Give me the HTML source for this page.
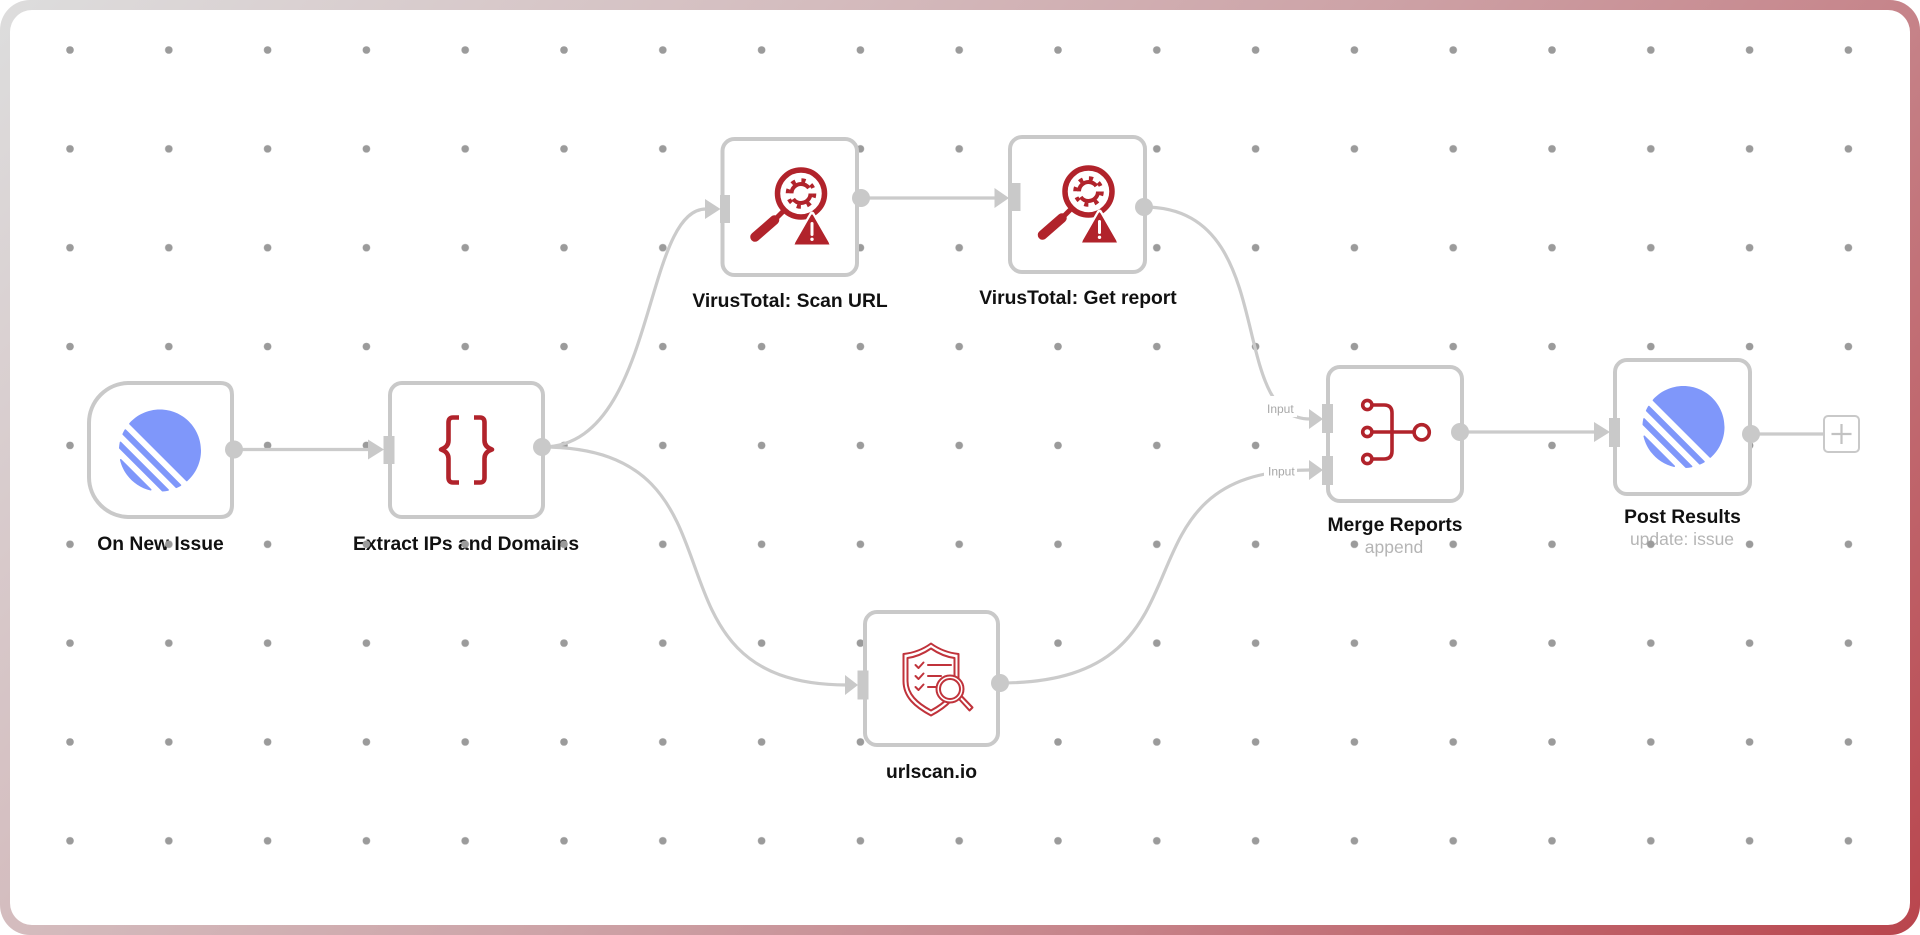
<!DOCTYPE html>
<html><head><meta charset="utf-8">
<style>
html,body{margin:0;padding:0;background:#fff;}
.frame{position:relative;width:1920px;height:935px;border-radius:30px;overflow:hidden;
background:linear-gradient(131deg,#dddddd 0%,#d4bcbe 30%,#cda3a7 50%,#c6848a 70%,#b9454d 100%);}
.inner{position:absolute;left:10px;top:10px;right:10px;bottom:10px;background:#fff;border-radius:22px;}
svg{position:absolute;left:0;top:0;}
text{font-family:"Liberation Sans",Arial,sans-serif;}
</style></head><body>
<div class="frame"><div class="inner"></div>
<svg width="1920" height="935" viewBox="0 0 1920 935">
<defs>
<pattern id="dots" patternUnits="userSpaceOnUse" x="20.6" y="0.575" width="98.8" height="98.85">
<circle cx="49.4" cy="49.425" r="3.8" fill="#9b9b9b"/>
</pattern>
<g id="linear">
<path d="M1.22541 61.5228c-.2225-.9485.90748-1.5459 1.59638-.857L39.3342 97.1782c.6889.6889.0915 1.8189-.857 1.5964C20.0515 94.4522 5.54779 79.9485 1.22541 61.5228Z"/>
<path d="M.00189135 46.8891c-.01764375.2833.08887215.5599.28957165.7606L52.3503 99.7085c.2007.2007.4773.3075.7606.2896 2.3692-.1476 4.6938-.46 6.9624-.9259.7645-.157 1.0301-1.0963.4782-1.6481L2.57595 39.4485c-.55186-.5519-1.49117-.2863-1.648174.4782-.465915 2.2686-.77832 4.5932-.92588465 6.9624Z"/>
<path d="M4.21093 29.7054c-.16649.3738-.08169.8106.20765 1.1l64.77602 64.776c.2894.2894.7262.3742 1.1.2077 1.7861-.7956 3.5171-1.6927 5.1855-2.684.5521-.328.6373-1.0867.1832-1.5407L8.43566 24.3367c-.45409-.4541-1.21271-.3689-1.54074.1832-.99132 1.6684-1.88843 3.3994-2.68399 5.1855Z"/>
<path d="M12.6587 18.074c-.3701-.3701-.393-.9637-.0443-1.3541C21.7795 6.45931 35.1114 0 49.9519 0 77.5927 0 100 22.4073 100 50.0481c0 14.8405-6.4593 28.1724-16.7199 37.3375-.3903.3487-.984.3258-1.3542-.0443L12.6587 18.074Z"/>
</g>
<g id="vt">
<circle cx="801" cy="193.5" r="23.5" fill="none" stroke="#b1232b" stroke-width="5.5"/>
<line x1="784" y1="210.5" x2="776" y2="218.5" stroke="#b1232b" stroke-width="5"/>
<line x1="774.5" y1="220" x2="755" y2="237" stroke="#b1232b" stroke-width="9.5" stroke-linecap="round"/>
<circle cx="801" cy="193.5" r="9.5" fill="none" stroke="#b1232b" stroke-width="4" stroke-dasharray="23.8 6"/>
<circle cx="801" cy="193.5" r="13.3" fill="none" stroke="#b1232b" stroke-width="4" stroke-dasharray="4.2 6.25"/>
<path d="M812,214 L829.5,244.5 L794.5,244.5 Z" fill="#b1232b" stroke="#fff" stroke-width="5" stroke-linejoin="round" paint-order="stroke"/>
<path d="M812,216 L827.5,243 L796.5,243 Z" fill="#b1232b" stroke="#b1232b" stroke-width="2.5" stroke-linejoin="round"/>
<line x1="812" y1="223.5" x2="812" y2="234.5" stroke="#fff" stroke-width="3" stroke-linecap="round"/>
<circle cx="812" cy="239.3" r="1.7" fill="#fff"/>
</g>
</defs>

<!-- labels -->
<g font-weight="bold" font-size="19.3" fill="#111" text-anchor="middle">
<text x="160.5" y="550">On New Issue</text>
<text x="466" y="550">Extract IPs and Domains</text>
<text x="790" y="307">VirusTotal: Scan URL</text>
<text x="1078" y="304">VirusTotal: Get report</text>
<text x="931.5" y="778">urlscan.io</text>
<text x="1395" y="531">Merge Reports</text>
<text x="1682.5" y="523">Post Results</text>
</g>
<g font-size="17.5" fill="#b5b5b5" text-anchor="middle">
<text x="1394" y="553">append</text>
<text x="1682" y="545">update: issue</text>
</g>

<!-- grid dots -->
<rect x="0" y="0" width="1920" height="935" fill="url(#dots)"/>

<!-- edges -->
<g fill="none" stroke="#cbcbcb" stroke-width="3.2">
<path d="M234,449.5 H369"/>
<path d="M542,447 C657,447 642,209 706,209"/>
<path d="M542,447 C762,447 627,685 847,685"/>
<path d="M861,198 H995"/>
<path d="M1144,207 C1282,207 1224,419 1310,419"/>
<path d="M1000,683 C1230,683 1100,470 1310,470"/>
<path d="M1460,432 H1595"/>
<path d="M1751,434 H1824"/>
</g>
<!-- arrowheads -->
<g fill="#c9c9c9">
<path d="M368,439.5 L384,449.5 L368,459.5 Z"/>
<path d="M705,199 L720.5,209 L705,219 Z"/>
<path d="M845,675 L858,685 L845,695 Z"/>
<path d="M994.5,188 L1009,198 L994.5,208 Z"/>
<path d="M1309,409 L1323,419 L1309,429 Z"/>
<path d="M1309,460 L1323,470 L1309,480 Z"/>
<path d="M1594,422 L1610,432 L1594,442 Z"/>
</g>

<!-- nodes -->
<g fill="#fff" stroke="#c9c9c9" stroke-width="4">
<path d="M129,383 L220,383 Q232,383 232,395 L232,505 Q232,517 220,517 L129,517 A40,40 0 0 1 89,477 L89,423 A40,40 0 0 1 129,383 Z"/>
<rect x="390" y="383" width="153" height="134" rx="12"/>
<rect x="722.5" y="139" width="134.5" height="136" rx="12"/>
<rect x="1010" y="137" width="135" height="135" rx="12"/>
<rect x="865" y="612" width="133" height="133" rx="12"/>
<rect x="1328" y="367" width="134" height="134" rx="12"/>
<rect x="1615" y="360" width="135" height="134" rx="12"/>
<rect x="1824" y="416" width="35" height="36" rx="4" stroke-width="2"/>
</g>
<g stroke="#c2c2c2" stroke-width="2.2">
<line x1="1831.5" y1="434" x2="1851.5" y2="434"/>
<line x1="1841.5" y1="424" x2="1841.5" y2="444"/>
</g>

<!-- handles -->
<g fill="#c9c9c9">
<circle cx="234" cy="449.5" r="9"/>
<circle cx="542" cy="447" r="9"/>
<circle cx="861" cy="198" r="9"/>
<circle cx="1144" cy="207" r="9"/>
<circle cx="1000" cy="683" r="9"/>
<circle cx="1460" cy="432" r="9"/>
<circle cx="1751" cy="434" r="9"/>
<rect x="383.5" y="436" width="11" height="28"/>
<rect x="720" y="195" width="10" height="28"/>
<rect x="1008.5" y="183" width="12" height="28"/>
<rect x="857.5" y="670.5" width="11" height="29"/>
<rect x="1322" y="404" width="11" height="29"/>
<rect x="1322" y="456" width="11" height="29"/>
<rect x="1609" y="418" width="11" height="29"/>
</g>

<!-- input labels -->
<rect x="1263" y="396" width="34" height="21" fill="#fff"/>
<rect x="1264" y="462" width="33" height="17" fill="#fff"/>
<g font-size="12" fill="#a8a8a8">
<text x="1267" y="413">Input</text>
<text x="1268" y="475.5">Input</text>
</g>

<!-- icons -->
<g fill="#7f97fa">
<use href="#linear" transform="translate(119,409.5) scale(0.82)"/>
<use href="#linear" transform="translate(1642.5,386) scale(0.82)"/>
</g>

<!-- braces -->
<g fill="none" stroke="#b1232b" stroke-width="4.6" stroke-linejoin="round">
<path d="M459,417.5 L453,417.5 Q448.5,417.5 448.5,422.5 L448.5,440.5 Q448.5,447 441,449.5 Q448.5,452 448.5,458.5 L448.5,477.5 Q448.5,482.5 453,482.5 L459,482.5"/>
<path d="M474,417.5 L480,417.5 Q484.5,417.5 484.5,422.5 L484.5,440.5 Q484.5,447 492,449.5 Q484.5,452 484.5,458.5 L484.5,477.5 Q484.5,482.5 480,482.5 L474,482.5"/>
</g>

<use href="#vt"/>
<use href="#vt" transform="translate(287.5,-2)"/>

<!-- urlscan icon -->
<g fill="none" stroke="#c0333b" stroke-width="2" stroke-linejoin="round" stroke-linecap="round">
<path d="M931,643.5 C922,650 913,653 903.5,654 L903.5,681 C903.5,697 915,707 931,715.5 C947,707 958.5,697 958.5,681 L958.5,654 C949,653 940,650 931,643.5 Z"/>
<path d="M931,648.5 C923,654 915,657 907.5,658 L907.5,681 C907.5,694 917,703 931,710.5 C945,703 954.5,694 954.5,681 L954.5,658 C947,657 939,654 931,648.5 Z"/>
<path d="M915.5,665 L918.5,668 L923.5,662.5"/>
<path d="M915.5,676 L918.5,679 L923.5,673.5"/>
<path d="M915.5,687 L918.5,690 L923.5,684.5"/>
<path d="M928,665 H951"/>
<path d="M928,676 H941"/>
<path d="M928,687 H936"/>
<circle cx="950" cy="689" r="13.5" fill="#fff"/>
<circle cx="950" cy="689" r="10"/>
<path d="M959,699 L969.5,710.5 L972.5,707.5 L962,696.5"/>
</g>

<!-- merge icon -->
<g fill="none" stroke="#b1232b" stroke-width="3.6">
<path d="M1372,405 L1384,405 Q1392,405 1392,413 L1392,451 Q1392,459 1384,459 L1372,459"/>
<path d="M1372,432 L1414,432"/>
<circle cx="1367.3" cy="405" r="4.6"/>
<circle cx="1367.3" cy="432" r="4.6"/>
<circle cx="1367.3" cy="459" r="4.6"/>
<circle cx="1421.7" cy="432.3" r="7.6"/>
</g>
</svg></div></body></html>
